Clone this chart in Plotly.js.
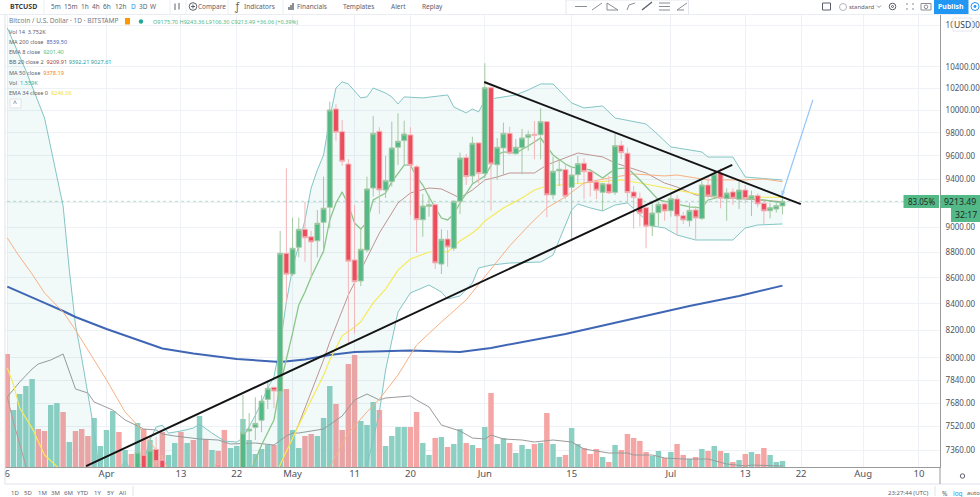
<!DOCTYPE html>
<html>
<head>
<meta charset="utf-8">
<script src="https://cdn.plot.ly/plotly-3.0.1.min.js"></script>
<style>html,body{margin:0;padding:0;background:#fff}#chart{width:980px;height:497px}</style>
</head>
<body>
<div id="chart"></div>
<script>
// day number counted from 16 Mar 2020 (first bar on the chart)
const candleDays = [21,22,23,24,25,33,34,
  38,39,40,41,42,43,44,45,46,47,48,49,50,51,52,53,54,55,56,57,58,59,60,61,62,63,64,65,66,67,68,69,70,71,72,73,74,75,
  76,77,78,79,80,81,82,83,84,85,86,87,88,89,90,91,92,93,94,95,96,97,98,99,100,101,102,103,104,105,106,107,108,109,110,
  111,112,113,114,115,116,117,118,119,120,121,122,123,124,125];
const openPrices = [7000,7329,7200,7367,7296,7100,7265,
  7200,7490,7515,7563,7707,7791,7760,8792,8629,8840,8984,8924,8892,9041,9164,10014,9811,9529,8739,8575,8818,9325,9814,9308,9379,9674,9732,9782,9506,9062,9172,9186,8707,8906,8832,9214,9584,9427,
  9712,9447,10208,9523,9668,9796,9618,9670,9761,9788,9784,9900,9267,9470,9481,9331,9438,9535,9463,9376,9289,9359,9289,9691,9622,9292,9239,9161,9011,9120,9192,9136,9233,9095,9054,
  9142,9073,9350,9258,9450,9236,9292,9231,9308,9236,9261,9197,9136,9150,9175.70];
const highPrices = [7376,7362,7450,7450,7329,7303,7272,
  7737,7612,7721,7737,7831,7795,8971,9492,9079,9079,9211,8973,9142,9421,10080,10057,9915,9570,9183,8997,9421,9951,9850,9598,9900,9975,9909,9850,9520,9275,9267,9195,8985,8979,9222,9627,9616,9766,
  9720,10435,10220,9755,9891,9855,9746,9835,9820,9906,10020,9905,9592,9564,9535,9501,9598,9578,9470,9385,9370,9427,9796,9731,9670,9342,9286,9170,9200,9211,9200,9275,9267,9127,9197,
  9175,9387,9416,9478,9492,9322,9322,9379,9350,9303,9281,9225,9197,9211,9243.36];
const lowPrices = [6900,7100,7150,7264,7180,7050,7235,
  7150,7382,7430,7483,7640,7645,7716,8409,8614,8760,8726,8596,8760,8792,8992,9731,9514,8107,8180,8536,8800,9253,9109,9242,9336,9521,9521,9101,8797,8924,9087,8668,8629,8686,8810,9109,9350,9350,
  9365,9410,9136,9393,9435,9610,9610,9441,9644,9570,9570,9082,9231,9342,9231,8904,9365,9231,9253,9231,9136,9275,9267,9570,9197,8989,9006,8832,8930,9011,9054,9087,8938,9027,9006,
  8904,9060,9239,9247,9156,9054,9183,9150,9197,9093,9164,9027,9073,9120,9106.30];
const closePrices = [7349,7190,7362,7285,7230,7150,7250,
  7478,7503,7542,7695,7784,7765,8792,8627,8832,8984,8916,8882,9033,9156,10005,9805,9552,8729,8569,8824,9317,9796,9308,9387,9668,9726,9790,9518,9062,9175,9186,8716,8904,8842,9214,9581,9421,9709,
  9447,10208,9529,9674,9796,9622,9674,9755,9784,9779,9900,9267,9467,9484,9256,9435,9532,9463,9373,9306,9361,9284,9688,9627,9286,9245,9115,9009,9117,9189,9134,9236,9093,9060,9139,
  9076,9350,9258,9444,9239,9283,9239,9308,9236,9261,9192,9134,9161,9178,9213.49];

// volume in thousands, one bar per day from day 0 to day 125
const volumes = [11.3,5.7,7.3,8.1,8.8,3.8,3.6,6.2,6.4,5.5,2.5,3.6,3.8,3.1,4.9,2.1,3.7,5.6,3.5,1.7,
  1.3,4.4,3.8,2.7,1.8,3.5,1.2,2.4,3.5,2.4,2.7,5.1,2.8,1.7,1.6,3.7,1.9,2.1,4.8,2.7,
  1.3,1.8,2.2,2.2,7.7,7.8,3.7,1.9,3.1,3.3,3.1,4.9,8.1,6.3,3.7,10.3,11.2,4.6,4.2,6.5,
  5.7,2.1,3.1,4.0,4.0,4.0,5.5,2.4,1.2,2.9,3.0,2.0,2.3,3.8,2.4,2.2,1.9,4.0,7.4,2.3,
  2.9,2.4,1.4,2.2,1.8,2.3,2.4,5.4,2.3,1.0,1.2,3.9,2.3,1.9,1.3,1.8,1.0,0.5,2.2,1.7,
  3.3,2.9,2.6,1.5,1.1,1.6,0.9,1.5,2.3,1.2,0.8,1.0,1.8,1.6,2.1,1.6,1.4,0.5,0.7,1.3,
  1.5,1.3,1.9,1.2,0.5,0.6];
// 1 green bar, 0 red bar
const volumeUp = [0,1,1,1,1,0,0,1,1,0,1,0,0,0,1,1,1,1,0,1,
  0,1,0,1,0,0,1,1,0,1,0,1,0,1,0,0,1,1,1,1,
  1,1,1,0,1,0,1,1,0,0,1,1,1,0,0,0,0,1,1,1,
  0,1,1,1,1,0,0,1,1,0,1,0,1,1,0,1,0,1,0,1,
  1,0,1,1,1,0,1,0,1,1,0,1,1,0,0,0,1,0,1,0,
  0,0,0,0,1,1,0,1,0,0,1,0,1,0,1,0,1,0,1,0,
  1,0,0,1,1,1];

const volAvgDays = [0,1,2,4,5,7,9,11,13,14,17,19,22,24,25,27,31,34,36,40,43,45,46,47,49,51,54,56,58,60,61,65,66,68,70,73,75,77,78,80,83,85,88,91,93,95,97,100,101,104,106,109,113,116,119,120,125];
const volAvg = [7.0,7.8,8.5,9.8,10.3,10.7,11.3,7.8,7.4,6.5,5.7,4.7,3.8,3.7,3.3,3.1,2.8,2.7,2.3,2.4,2.2,3.1,3.4,3.4,3.6,3.8,5.1,6.7,7.3,6.7,6.9,7.1,6.7,6.0,4.2,3.6,2.9,2.8,3.2,2.8,2.7,2.5,2.7,2.5,1.8,1.6,1.4,1.4,1.2,1.2,0.9,0.8,0.8,0.3,0.1,0.2,0.1];

const ma200Days = [0,4,6,9,11,16,20,25,30,37,44,48,52,56,65,73,78,83,85,90,100,110,118,125];
const ma200 = [8531,8452,8407,8346,8301,8212,8150,8069,8033,7993,7971,7989,8022,8043,8054,8043,8073,8117,8131,8175,8279,8384,8460,8539.5];

const bbUpperDays = [0,3,6,8,9,10,11,12,14,15,17,18,19,20,22,23,24,25,26,28,30,31,33,35,37,38,40,41,42,43,44,45,46,47,48,49,50,51,52,53,54,55,57,58,59,61,62,63,64,67,71,72,74,75,76,77,80,82,84,86,88,90,91,93,96,98,103,105,107,112,113,117,119,125];
const bbUpper = [10773,10366,9933,9427,9175,8660,8241,8000,7495,7170,7058,7230,7290,7230,7283,7430,7517,7530,7476,7490,7510,7537,7476,7423,7416,7443,7598,7688,7786,7865,8094,8415,8676,8858,9060,9325,9478,9606,9933,10205,10261,10242,10114,10123,10205,10159,10123,10059,10123,10114,10141,10032,9978,10014,9987,10096,10123,10141,10187,10242,10242,10123,10068,10023,10041,9933,9879,9781,9677,9633,9589,9589,9418,9392.21];
const bbLowerDays = [0,30,57,58,59,60,61,62,63,65,68,70,71,73,75,76,78,81,84,86,88,89,90,91,92,94,96,98,100,102,104,106,108,111,117,119,121,125];
const bbLower = [5800,6300,7058,7257,7430,7619,7914,8131,8339,8483,8544,8490,8437,8460,8560,8676,8699,8715,8723,8723,8778,8898,9011,9142,9192,9159,9134,9183,9200,9101,9011,8995,8938,8898,8898,8995,9019,9027.61];
const bbBasisDays = [0,1,3,6,30,43,44,47,51,52,55,57,60,63,65,68,70,73,75,77,79,81,85,87,90,92,94,96,98,101,103,106,108,111,114,119,125];
const bbBasis = [7722,7550,7257,6915,6400,7178,7257,7537,7986,8117,8468,8660,8954,9200,9283,9325,9317,9242,9308,9393,9418,9452,9452,9521,9581,9624,9607,9590,9538,9487,9452,9367,9333,9267,9250,9233,9209.91];

const ema8Days = [35,39,41,43,44,45,46,47,48,49,51,52,53,54,55,56,57,58,59,61,62,64,65,66,67,68,70,71,72,73,75,77,79,80,82,84,86,88,90,91,94,96,98,100,102,105,107,110,112,113,115,122,125];
const ema8 = [7058,7197,7396,7565,7805,7985,8182,8392,8490,8606,8810,9060,9200,9292,9183,9035,8986,9044,9225,9283,9376,9520,9520,9418,9350,9250,9076,9060,9109,9200,9359,9427,9607,9633,9624,9685,9755,9607,9529,9503,9478,9410,9487,9495,9393,9225,9200,9167,9159,9225,9250,9225,9201.4];

const ema34Days = [0,1,2,4,6,8,10,42,44,47,49,51,52,53,54,56,57,59,61,63,65,68,71,73,75,76,77,80,83,85,87,93,99,102,108,112,116,125];
const ema34 = [7928,7810,7647,7510,7330,7257,7178,7102,7265,7530,7702,7877,7986,8073,8161,8227,8265,8407,8513,8660,8747,8802,8802,8890,8954,8995,9052,9159,9242,9308,9342,9367,9393,9367,9308,9267,9250,9246.06];

const ma50Days = [0,2,4,6,9,11,14,16,19,21,24,26,30,48,52,55,58,60,63,66,70,74,78,81,84,87,90,93,97,101,106,108,113,119,122,125];
const ma50 = [8914,8763,8629,8483,8339,8204,7986,7843,7619,7530,7362,7244,6970,6845,7251,7476,7620,7709,7878,8094,8264,8430,8668,8850,9011,9159,9250,9367,9410,9444,9427,9435,9393,9393,9401,9378.19];

// drawn lines on the chart
const trendUpDays = [12.7,116.9];
const trendUp = [7257,9521];
const trendDownDays = [76.9,127.96];
const trendDown = [10260,9190];
const projectionDays = [124.9,129.9];
const projection = [9258,10096];
const lastPrice = 9213.49;

const tickDays = [0,16,28,37,46,56,65,77,91,107,119,128,138,147];
const tickLabels = ['6','Apr','13','22','May','11','20','Jun','15','Jul','13','22','Aug','10'];
const priceTicks = [7360,7520,7680,7840,8000,8200,8400,8600,8800,9000,9200,9400,9600,9800,10000,10200,10400,10800];

const GREEN = '#53b987', RED = '#eb4d5c';
const W = 980, H = 497, L = 5, R = 940, T = 14, B = 467;

function dayToDate(d) {
  return new Date(Date.UTC(2020, 2, 16) + d * 86400000).toISOString().slice(0, 19).replace('T', ' ');
}
function dates(list) { return list.map(dayToDate); }
function line(days, vals, color, width, extra) {
  return Object.assign({type: 'scatter', mode: 'lines', x: dates(days), y: vals, yaxis: 'y2',
    line: {color: color, width: width}, hoverinfo: 'skip'}, extra || {});
}

const traces = [
  {type: 'bar', x: dates(volumes.map((v, i) => i)), y: volumes, yaxis: 'y', hoverinfo: 'skip',
    marker: {color: volumeUp.map(u => u ? '#8cd0c4' : '#f6a5a5'), line: {width: 0}}},
  {type: 'scatter', mode: 'lines', x: dates(volAvgDays), y: volAvg, yaxis: 'y', hoverinfo: 'skip',
    line: {color: '#9a9a9a', width: 1}},
  line(bbLowerDays, bbLower, '#83c5c5', 1),
  line(bbUpperDays, bbUpper, '#83c5c5', 1, {fill: 'tonexty', fillcolor: 'rgba(70,165,170,0.07)'}),
  line(bbBasisDays, bbBasis, '#bd9593', 1),
  line(ma200Days, ma200, '#3f66b5', 2),
  line(ema34Days, ema34, '#f6ea5a', 1.2),
  line(ma50Days, ma50, '#f7b183', 1),
  line(ema8Days, ema8, '#8ac68a', 1.3),
  {type: 'scatter', mode: 'lines', x: [dayToDate(-1), dayToDate(151)], y: [lastPrice, lastPrice], yaxis: 'y2',
    line: {color: 'rgba(83,185,135,0.45)', width: 1, dash: 'dot'}, hoverinfo: 'skip'},
  {type: 'candlestick', x: dates(candleDays), open: openPrices, high: highPrices, low: lowPrices, close: closePrices,
    yaxis: 'y3', hoverinfo: 'skip',
    increasing: {fillcolor: GREEN, line: {color: '#a4c9a3', width: 1}},
    decreasing: {fillcolor: RED, line: {color: '#f4b5b9', width: 1}}},
  {type: 'scatter', mode: 'lines', x: dates(trendUpDays), y: trendUp, yaxis: 'y3', hoverinfo: 'skip',
    line: {color: '#141414', width: 2}},
  {type: 'scatter', mode: 'lines', x: dates(trendDownDays), y: trendDown, yaxis: 'y3', hoverinfo: 'skip',
    line: {color: '#141414', width: 2}},
  {type: 'scatter', mode: 'lines+markers', x: dates(projectionDays), y: projection, yaxis: 'y3', hoverinfo: 'skip',
    line: {color: '#91c6f7', width: 1.2},
    marker: {size: [5, 0], symbol: 'arrow-open', angle: 196, color: '#91c6f7', line: {color: '#91c6f7', width: 1}}}
];

// page pixels to paper coordinates, for the toolbar parts around the plot
const px = x => (x - L) / (R - L);
const py = y => (B - y) / (B - T);
const GREY = '#5d606b';

function note(x, y, text, size, color, anchor) {
  return {xref: 'paper', yref: 'paper', x: px(x), y: py(y), text: text, showarrow: false,
    xanchor: anchor || 'center', yanchor: 'middle', font: {size: size || 6.5, color: color || GREY},
    borderpad: 0, borderwidth: 0};
}
function box(x0, y0, x1, y1, fill, stroke) {
  return {type: 'rect', xref: 'paper', yref: 'paper', x0: px(x0), x1: px(x1), y0: py(y0), y1: py(y1),
    fillcolor: fill || 'rgba(0,0,0,0)', line: {color: stroke || 'rgba(0,0,0,0)', width: stroke ? 1 : 0}, layer: 'above'};
}
function seg(x0, y0, x1, y1, color, width) {
  return {type: 'line', xref: 'paper', yref: 'paper', x0: px(x0), x1: px(x1), y0: py(y0), y1: py(y1),
    line: {color: color || '#8a8d96', width: width || 1}, layer: 'above'};
}
function dot(x, y, r, fill, stroke) {
  return {type: 'circle', xref: 'paper', yref: 'paper', x0: px(x - r), x1: px(x + r), y0: py(y - r), y1: py(y + r),
    fillcolor: fill || 'rgba(0,0,0,0)', line: {color: stroke || 'rgba(0,0,0,0)', width: stroke ? 1 : 0}, layer: 'above'};
}
const span = (c, t) => '<span style="color:' + c + '">' + t + '</span>';

const notes = [
  note(10, 6.5, '<b>BTCUSD</b>', 7, '#3a3d47', 'left'),
  note(56, 6.5, '5m'), note(71, 6.5, '15m'), note(85, 6.5, '1h'), note(96, 6.5, '4h'), note(107, 6.5, '6h'),
  note(120, 6.5, '12h'), note(133, 6.5, 'D', 6.5, '#2196f3'), note(143, 6.5, '3D'), note(153, 6.5, 'W'),
  note(212, 6.5, 'Compare'), note(259, 6.5, 'Indicators'), note(237, 6, 'ƒ', 10),
  note(312, 6.5, 'Financials'), note(358, 6.5, 'Templates'), note(398, 6.5, 'Alert'), note(432, 6.5, 'Replay'),
  note(861.5, 6.5, 'standard', 6),
  note(951, 6.5, '<b>Publish</b>', 7, '#ffffff'),
  note(9, 21, 'Bitcoin / U.S. Dollar · 1D · BITSTAMP', 6.6, '#777a85', 'left'),
  note(153, 22, 'O9175.70 H9243.36 L9106.30 C9213.49 +36.06 (+0.39%)', 5.6, '#53b987', 'left'),
  note(9, 32, 'Vol 14  3.752K', 5.6, GREY, 'left'),
  note(9, 42, 'MA 200 close  ' + span('#3f66b5', '8539.50'), 5.6, GREY, 'left'),
  note(9, 52.5, 'EMA 8 close  ' + span('#68bb6c', '9201.40'), 5.6, GREY, 'left'),
  note(9, 62.5, 'BB 20 close 2  ' + span('#a33d3d', '9209.91') + ' ' + span('#2a9d9d', '9392.21') + ' ' + span('#2a9d9d', '9027.61'), 5.6, GREY, 'left'),
  note(9, 73, 'MA 50 close  ' + span('#f57f2a', '9378.19'), 5.6, GREY, 'left'),
  note(9, 83, 'Vol  ' + span('#2fb3a3', '1.559K'), 5.6, GREY, 'left'),
  note(9, 93, 'EMA 34 close 0  ' + span('#f2dd2e', '9246.06'), 5.6, GREY, 'left'),
  note(15, 103, '^', 7),
  note(921, 201.5, '83.05%', 8, '#1f2a26'),
  note(960, 201.5, '9213.49', 8.7, '#1f2a26'),
  note(965.5, 215, '32:17', 8.7, '#1f2a26'),
  note(962.5, 24.5, 'USD', 8.5, '#3a3d47'),
  note(15, 493, '1D', 6), note(28, 493, '5D', 6), note(42, 493, '1M', 6), note(55, 493, '3M', 6),
  note(68, 493, '6M', 6), note(83, 493, 'YTD', 6), note(97.5, 493, '1Y', 6), note(110, 493, '5Y', 6),
  note(123, 493, 'All', 6),
  note(908, 493, '23:27:44 (UTC)', 6), note(945, 493, '%', 6.5), note(958, 493, 'log', 6.5, '#2196f3'),
  note(973, 493, 'auto', 6)
];

const chrome = [
  box(0, 14, 5, 467, '#ffffff'),
  seg(0, 14.5, 980, 14.5, '#e9ecf2'),
  seg(5, 14, 5, 484, '#e0e3eb'),
  seg(5, 484, 980, 484, '#e0e3eb'),
  seg(940, 467, 940, 484, '#9a9a9a'),
  seg(44, 0, 44, 14, '#eceef3'), seg(170, 0, 170, 14, '#eceef3'), seg(186, 0, 186, 14, '#eceef3'),
  seg(228, 0, 228, 14, '#eceef3'), seg(283, 0, 283, 14, '#eceef3'), seg(133, 486, 133, 496, '#e0e3eb'), seg(935, 486, 935, 496, '#e0e3eb'),
  // candle icon, compare plus, financials bars
  seg(175, 3.5, 175, 10, '#5d606b'), seg(179, 3, 179, 9.5, '#5d606b'),
  dot(193, 6.5, 3.8, null, '#5d606b'), seg(191, 6.5, 195, 6.5, '#5d606b'), seg(193, 4.5, 193, 8.5, '#5d606b'),
  seg(289, 10, 289, 7, '#5d606b', 1.4), seg(291, 10, 291, 5, '#5d606b', 1.4), seg(293, 10, 293, 3, '#5d606b', 1.4),
  // drawing toolbar
  box(566, 0, 688.5, 14.5, '#ffffff', '#e4e6ec'),
  seg(575, 6.5, 587, 6.5), seg(592, 10, 602, 3), seg(607, 3, 607, 10), seg(607, 10, 618, 10), seg(607, 3, 618, 10),
  seg(627, 10, 629, 5), seg(629, 5, 635, 3), seg(642, 10, 652, 2, '#5d606b', 1.4),
  seg(659, 3, 670, 3), seg(659, 6.5, 670, 6.5), seg(659, 10, 670, 10), seg(677, 10, 687, 3), seg(677, 10, 684, 10),
  // right hand icons
  box(822.5, 3, 830.5, 10, null, '#5d606b'),
  dot(843, 7, 3.5, null, '#b2b5be'),
  seg(877, 5.5, 879, 7.5), seg(879, 7.5, 881, 5.5),
  dot(892.5, 6.5, 3.3, null, '#5d606b'), dot(892.5, 6.5, 1, null, '#5d606b'),
  seg(906, 4, 908, 4), seg(912, 4, 914, 4), seg(906, 9, 908, 9), seg(912, 9, 914, 9),
  box(921, 3.5, 931, 10, null, '#8a8d96'), dot(926, 6.8, 1.8, null, '#8a8d96'),
  box(934, 0, 968.5, 14, '#2196f3'),
  dot(975, 6.5, 4, null, '#2196f3'), dot(975, 6.5, 1.4, '#2196f3'),
  // flag and dot after the title
  box(125, 18, 130, 24.5, '#ff9800'), dot(141, 21.5, 2.2, '#26a69a'),
  box(903.5, 195, 939, 208, GREEN),
  box(940.5, 195, 980, 208, GREEN),
  box(951, 208, 980, 222, GREEN),
  box(953, 18, 972, 31, '#ffffff', '#e4e6ec'),
  dot(962.5, 476, 2.2, null, '#5d606b'),
  box(10, 99, 21, 108, '#ffffff', '#dfe2e9')
];

const gridColor = '#eef1f6';
const priceRange = [Math.log10(7251), Math.log10(10909)];
const layout = {
  width: W, height: H, showlegend: false, barmode: 'overlay', bargap: 0.12, boxgap: 0.2, boxgroupgap: 0,
  margin: {l: L, r: W - R, t: T, b: H - B, pad: 0},
  paper_bgcolor: '#ffffff', plot_bgcolor: '#ffffff',
  font: {family: '"Noto Sans", "Open Sans", sans-serif', size: 10, color: GREY},
  xaxis: {type: 'date', range: [dayToDate(-0.37), dayToDate(150.4)], tickmode: 'array', tickvals: dates(tickDays),
    ticktext: tickLabels, showgrid: true, gridcolor: gridColor, gridwidth: 1, zeroline: false, showline: true,
    linecolor: '#9a9a9a', linewidth: 1, ticks: '', tickfont: {size: 9.5, color: '#50535e'},
    rangeslider: {visible: false}, ticklabelstandoff: -2},
  yaxis: {range: [0, (B - T) / 10], visible: false, showgrid: false, zeroline: false, fixedrange: true},
  yaxis2: {type: 'log', overlaying: 'y', side: 'right', range: priceRange, tickmode: 'array', tickvals: priceTicks,
    ticktext: priceTicks.map(v => v === 9200 ? '' : v.toFixed(2)), showgrid: true, gridcolor: gridColor, gridwidth: 1, zeroline: false,
    showline: true, linecolor: '#9a9a9a', linewidth: 1, ticks: '', tickfont: {size: 8, color: '#50535e'},
    ticklabelstandoff: 3},
  yaxis3: {type: 'log', overlaying: 'y', side: 'right', range: priceRange, visible: false, showgrid: false, zeroline: false},
  shapes: chrome,
  annotations: notes
};

Plotly.newPlot('chart', traces, layout, {displayModeBar: false, staticPlot: true});
</script>
</body>
</html>
